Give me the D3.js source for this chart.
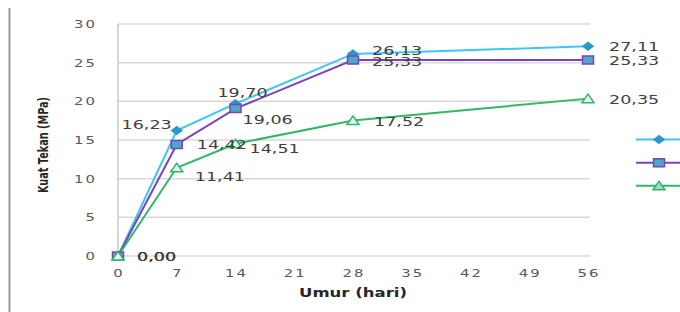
<!DOCTYPE html>
<html>
<head>
<meta charset="utf-8">
<script src="https://cdnjs.cloudflare.com/ajax/libs/d3/7.8.5/d3.min.js"></script>
<style>
  body { margin: 0; background: #fff; }
  svg { display: block; }
  text { font-family: "DejaVu Sans", Verdana, sans-serif; }
</style>
</head>
<body>
<svg id="chart" width="680" height="312"></svg>
<script>
// data
const days = [0, 7, 14, 28, 56];
const seriesA = [0, 16.23, 19.70, 26.13, 27.11];
const seriesB = [0, 14.42, 19.06, 25.33, 25.33];
const seriesC = [0, 11.41, 14.51, 17.52, 20.35];
const yTicks = [0, 5, 10, 15, 20, 25, 30];
const xTicks = [0, 7, 14, 21, 28, 35, 42, 49, 56];

// label placement per point: [dx, dy, anchor]
const offA = [[19, 5, "start"], [-5, -1, "end"], [7, -7, "middle"], [19, 1.5, "start"], [21, 5, "start"]];
const offB = [[19, 5, "start"], [20, 5, "start"], [7, 15, "start"], [19, 5.5, "start"], [21, 5, "start"]];
const offC = [[19, 5, "start"], [18, 13.5, "start"], [14, 9.5, "start"], [21, 5, "start"], [21, 5, "start"]];

const series = [
  { values: seriesA, line: "#3cc6f2", fill: "#2b96cc", stroke: "#2b96cc", shape: "diamond", off: offA },
  { values: seriesB, line: "#7d42b8", fill: "#4aa8c8", stroke: "#7d42b8", shape: "square", off: offB },
  { values: seriesC, line: "#30b868", fill: "#eaf6ef", stroke: "#30b868", shape: "triangle", off: offC }
];

const sx = 1.35; // horizontal stretch seen in the picture
const svg = d3.select("#chart");

const x = d3.scaleLinear().domain([0, 56]).range([118, 588]);
const y = d3.scaleLinear().domain([0, 30]).range([256, 24]);

// outer left border
svg.append("line")
  .attr("x1", 9.5).attr("x2", 9.5).attr("y1", 8).attr("y2", 312)
  .attr("stroke", "#9a9a9a").attr("stroke-width", 2);

// gridlines
svg.append("g").selectAll("line")
  .data(yTicks)
  .join("line")
  .attr("x1", x(0)).attr("x2", 590)
  .attr("y1", d => y(d)).attr("y2", d => y(d))
  .attr("stroke", "#d9d9d9").attr("stroke-width", 1.5);

svg.append("line")
  .attr("x1", x(0)).attr("x2", x(0)).attr("y1", y(30)).attr("y2", y(0))
  .attr("stroke", "#c8c8c8").attr("stroke-width", 1.5);

// y tick labels
svg.append("g").selectAll("g")
  .data(yTicks)
  .join("g")
  .attr("transform", d => `translate(97,${y(d) + 4}) scale(${sx},1)`)
  .append("text")
  .attr("text-anchor", "end")
  .attr("font-size", 11)
  .attr("letter-spacing", 1.5)
  .attr("fill", "#595959")
  .text(d => d);

// x tick labels
svg.append("g").selectAll("g")
  .data(xTicks)
  .join("g")
  .attr("transform", d => `translate(${x(d) + 1},277) scale(${sx},1)`)
  .append("text")
  .attr("text-anchor", "middle")
  .attr("font-size", 11)
  .attr("letter-spacing", 1.5)
  .attr("fill", "#595959")
  .text(d => d);

// axis titles
svg.append("text")
  .attr("transform", "translate(353,297)")
  .attr("text-anchor", "middle")
  .attr("font-size", 12)
  .attr("font-weight", "bold")
  .attr("fill", "#262626")
  .attr("textLength", 108)
  .attr("lengthAdjust", "spacingAndGlyphs")
  .text("Umur (hari)");

svg.append("text")
  .attr("transform", `translate(48,145) scale(${sx},1) rotate(-90)`)
  .attr("text-anchor", "middle")
  .attr("font-size", 11)
  .attr("font-weight", "bold")
  .attr("fill", "#262626")
  .attr("textLength", 96)
  .attr("lengthAdjust", "spacingAndGlyphs")
  .text("Kuat Tekan (MPa)");

function marker(shape) {
  if (shape === "diamond") return "M-5,0L0,-3.8L5,0L0,3.8Z";
  if (shape === "square") return "M-5.5,-4H5.5V4H-5.5Z";
  return "M-6,4L0,-4.5L6,4Z";
}

const line = d3.line().x((d, i) => x(days[i])).y(d => y(d));

series.forEach(s => {
  svg.append("path")
    .datum(s.values)
    .attr("d", line)
    .attr("fill", "none")
    .attr("stroke", s.line)
    .attr("stroke-width", 2);
});

series.forEach(s => {
  svg.append("g").selectAll("path")
    .data(s.values)
    .join("path")
    .attr("transform", (d, i) => `translate(${x(days[i])},${y(d)})`)
    .attr("d", marker(s.shape))
    .attr("fill", s.fill)
    .attr("stroke", s.stroke)
    .attr("stroke-width", 1.5);
});

// data labels
series.forEach(s => {
  svg.append("g").selectAll("g")
    .data(s.values)
    .join("g")
    .attr("transform", (d, i) => `translate(${x(days[i]) + s.off[i][0]},${y(d) + s.off[i][1]}) scale(${sx},1)`)
    .append("text")
    .attr("text-anchor", (d, i) => s.off[i][2])
    .attr("font-size", 13)
    .attr("fill", "#404040")
    .text(d => d.toFixed(2).replace(".", ","));
});

// legend (cut off at the right edge)
const legendY = [139.5, 162.7, 185.7];
series.forEach((s, i) => {
  const g = svg.append("g").attr("transform", `translate(0,${legendY[i]})`);
  g.append("line")
    .attr("x1", 636).attr("x2", 680)
    .attr("stroke", s.line).attr("stroke-width", 2);
  g.append("path")
    .attr("transform", "translate(659,0)")
    .attr("d", marker(s.shape))
    .attr("fill", i === 2 ? "#a8d0cc" : s.fill)
    .attr("stroke", s.stroke)
    .attr("stroke-width", 1.5);
});
</script>
</body>
</html>
